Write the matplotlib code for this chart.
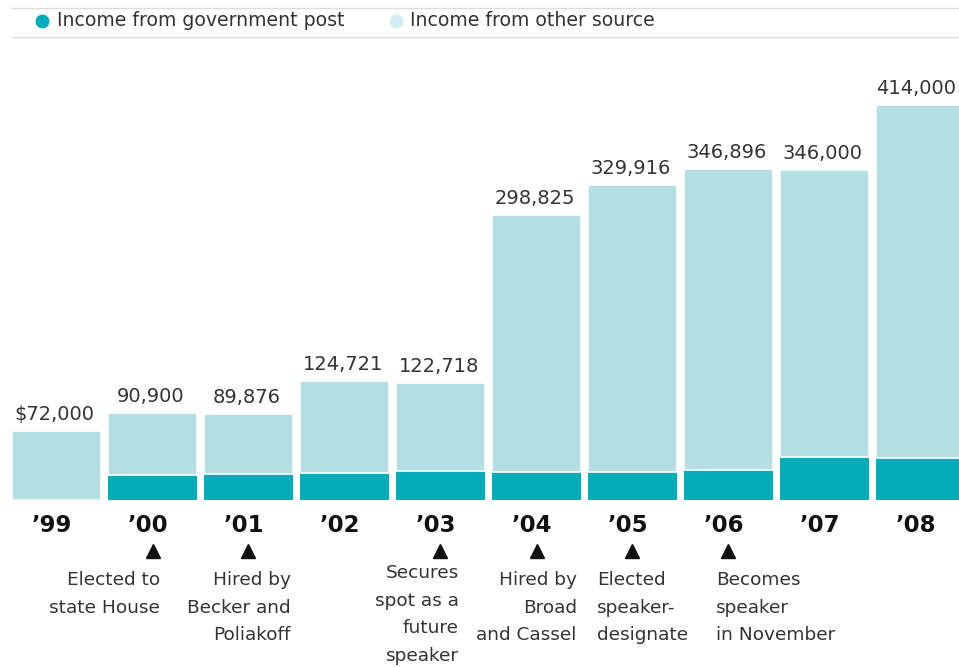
import matplotlib
matplotlib.use("Agg")
import matplotlib.pyplot as plt
from matplotlib.transforms import blended_transform_factory
from matplotlib.lines import Line2D

years = ["’99", "’00", "’01", "’02", "’03", "’04", "’05", "’06", "’07", "’08"]
totals = [72000, 90900, 89876, 124721, 122718, 298825, 329916, 346896, 346000, 414000]
gov_income = [0, 26500, 27500, 28500, 30500, 29500, 29500, 31500, 45000, 44000]
total_labels = ["$72,000", "90,900", "89,876", "124,721", "122,718", "298,825",
                "329,916", "346,896", "346,000", "414,000"]
events = {
    1: ("Elected to\nstate House", "right"),
    2: ("Hired by\nBecker and\nPoliakoff", "right"),
    4: ("Secures\nspot as a\nfuture\nspeaker", "right"),
    5: ("Hired by\nBroad\nand Cassel", "right"),
    6: ("Elected\nspeaker-\ndesignate", "left"),
    7: ("Becomes\nspeaker\nin November", "left"),
}

DARK = "#03AEB8"
LIGHT = "#B4E0E4"
TEXT = "#333333"

W, H = 959, 667
fig = plt.figure(figsize=(W / 100, H / 100), dpi=100)
plt.rcParams['font.family'] = ['DejaVu Sans']

ax_left, ax_right = 12, 959
ax_bottom, ax_top = 500, 80
ax = fig.add_axes([ax_left / W, 1 - ax_bottom / H, (ax_right - ax_left) / W, (ax_bottom - ax_top) / H])
ax.axis("off")
pitch = 96.0
bw = 89 / pitch
ax.set_xlim(-bw / 2, -bw / 2 + (ax_right - ax_left) / pitch)
scale = 395 / 414000  # px per dollar
ax.set_ylim(0, (ax_bottom - ax_top) / scale)

xs = list(range(len(years)))
other = [t - g for t, g in zip(totals, gov_income)]
ax.bar(xs, gov_income, width=bw, color=DARK, linewidth=0)
ax.bar(xs, other, bottom=gov_income, width=bw, color=LIGHT, edgecolor="white", linewidth=1.2)

for x, t, lab in zip(xs, totals, total_labels):
    dx = -0.05 if x == len(xs) - 1 else -0.02
    ax.annotate(lab, (x + dx, t), xytext=(0, 7), textcoords="offset pixels",
                ha="center", va="bottom", fontsize=14, color=TEXT, annotation_clip=False)

bt = blended_transform_factory(ax.transData, fig.transFigure)
for x, y in zip(xs, years):
    ax.text(x - 0.05, 1 - 525 / H, y, transform=bt, ha="center", va="center",
            fontsize=16.5, fontweight="bold", color="#111111", clip_on=False)

for i, (txt, align) in events.items():
    ax.plot([i], [1 - 551 / H], marker="^", markersize=10, color="#111111",
            transform=bt, clip_on=False, linestyle="none")
    ypix = 564 if i == 4 else 571
    if align == "right":
        if i == 1:
            xpos = i + 0.08
        elif i == 2:
            xpos = i + 0.44
        elif i == 4:
            xpos = i + 0.19
        else:
            xpos = i + 0.42
    else:
        xpos = i - 0.37 if i == 6 else i - 0.13
    ax.text(xpos, 1 - ypix / H, txt, transform=bt, ha=align, va="top",
            fontsize=13.3, color=TEXT, linespacing=1.68, clip_on=False,
            multialignment=align)

# legend area
fig.add_artist(Line2D([12 / W, 1], [1 - 8 / H, 1 - 8 / H], color="#dddddd", lw=1))
fig.add_artist(Line2D([12 / W, 1], [1 - 37 / H, 1 - 37 / H], color="#dddddd", lw=1))
fig.add_artist(Line2D([42 / W], [1 - 21 / H], marker="o", markersize=9, color=DARK, linestyle="none"))
fig.text(57 / W, 1 - 21 / H, "Income from government post", ha="left", va="center", fontsize=13.6, color=TEXT)
fig.add_artist(Line2D([396 / W], [1 - 21 / H], marker="o", markersize=9, color="#D3EEF0", linestyle="none"))
fig.text(410 / W, 1 - 21 / H, "Income from other source", ha="left", va="center", fontsize=13.6, color=TEXT)

fig.savefig("out.png", dpi=100, facecolor="white")
